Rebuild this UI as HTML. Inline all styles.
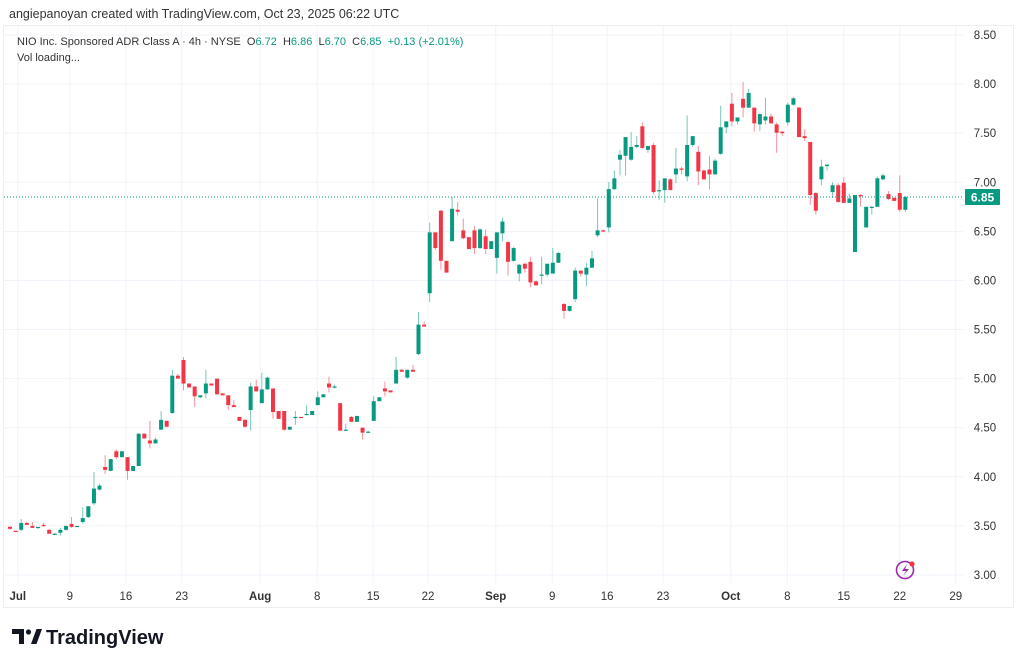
<!DOCTYPE html>
<html><head><meta charset="utf-8">
<style>
body{margin:0;background:#fff;width:1024px;height:665px;overflow:hidden;font-family:"Liberation Sans",sans-serif}
svg text{font-family:"Liberation Sans",sans-serif}
</style></head>
<body>
<svg id="c" width="1024" height="665" viewBox="0 0 1024 665" xmlns="http://www.w3.org/2000/svg">
<rect x="0" y="0" width="1024" height="665" fill="#fff"/>
<text x="9" y="18" font-size="12.5" fill="#333">angiepanoyan created with TradingView.com, Oct 23, 2025 06:22 UTC</text>
<rect x="3.5" y="25.5" width="1010" height="582" fill="none" stroke="#eceff2"/>
<g id="grid"></g>
<g id="candles"></g>
<g id="axes"></g>
<g>
<text x="17" y="45" font-size="11" fill="#333" style="white-space:pre" xml:space="preserve"><tspan>NIO Inc. Sponsored ADR Class A · 4h · NYSE  O</tspan><tspan fill="#089981">6.72</tspan><tspan>  H</tspan><tspan fill="#089981">6.86</tspan><tspan>  L</tspan><tspan fill="#089981">6.70</tspan><tspan>  C</tspan><tspan fill="#089981">6.85  +0.13 (+2.01%)</tspan></text>
<text x="17" y="61" font-size="11" fill="#333">Vol loading...</text>
</g>
<g>
<circle cx="905" cy="570" r="8.5" fill="none" stroke="#9c27b0" stroke-width="1.6"/>
<path d="M907 564 L902 571 L906 571 L903 576 L909 569 L905 569 Z" fill="#9c27b0"/>
<circle cx="912" cy="564" r="2.6" fill="#f23645"/>
</g>
<g>
<path d="M12 629 h12 v15 h-5 v-10 h-7 z" fill="#131722"/>
<circle cx="28.5" cy="632" r="2.6" fill="#131722"/>
<path d="M31 644 l5.5 -15 h5.5 l-5.5 15 z" fill="#131722"/>
<text x="46" y="644" font-size="20" font-weight="bold" fill="#131722">TradingView</text>
</g>
</svg>
<script>
const opens  =[3.49,3.45,3.46,3.53,3.50,3.48,3.51,3.46,3.42,3.43,3.46,3.52,3.50,3.54,3.59,3.73,3.87,4.10,4.06,4.26,4.20,4.20,4.06,4.11,4.44,4.37,4.34,4.48,4.57,4.65,5.03,5.19,4.95,4.92,4.81,4.85,4.95,5.00,4.85,4.83,4.73,4.61,4.58,4.68,4.92,4.75,4.89,4.90,4.67,4.67,4.48,4.60,4.61,4.63,4.63,4.73,4.81,4.95,4.92,4.75,4.47,4.61,4.56,4.50,4.46,4.57,4.77,4.90,4.88,4.95,5.09,5.01,5.09,5.25,5.55,5.87,6.49,6.71,6.20,6.40,6.72,6.51,6.44,6.51,6.33,6.45,6.32,6.23,6.48,6.39,6.20,6.07,6.17,6.19,5.99,6.05,6.06,6.07,6.18,5.76,5.69,5.81,6.10,6.06,6.13,6.46,6.51,6.54,6.93,7.23,7.27,7.23,7.36,7.57,7.33,7.38,6.92,6.92,7.03,7.08,7.14,7.06,7.38,7.31,7.12,7.13,7.08,7.29,7.56,7.80,7.62,7.85,7.76,7.76,7.59,7.63,7.67,7.59,7.515,7.61,7.79,7.76,7.47,7.41,6.89,7.03,7.165,6.90,6.97,6.995,6.79,6.29,6.87,6.54,6.75,6.75,7.03,6.88,6.84,6.89,6.72];
const highs  =[3.50,3.45,3.57,3.54,3.54,3.49,3.53,3.47,3.43,3.48,3.50,3.59,3.50,3.69,3.70,4.05,3.93,4.22,4.18,4.28,4.26,4.20,4.11,4.44,4.44,4.57,4.40,4.67,4.57,5.09,5.05,5.22,4.95,4.92,4.83,5.09,4.95,5.00,4.85,4.83,4.78,4.61,4.59,4.96,4.99,5.06,5.02,4.90,4.67,4.67,4.51,4.67,4.61,4.73,4.67,4.87,4.84,5.02,4.94,4.75,4.54,4.62,4.62,4.50,4.47,4.82,4.81,4.97,4.88,5.22,5.10,5.09,5.14,5.68,5.58,6.59,6.49,6.72,6.20,6.85,6.80,6.63,6.44,6.55,6.53,6.52,6.40,6.49,6.64,6.40,6.34,6.17,6.18,6.24,6.00,6.24,6.17,6.33,6.29,5.77,5.74,6.13,6.10,6.18,6.30,6.84,6.52,7.00,7.12,7.33,7.46,7.51,7.47,7.61,7.37,7.40,7.02,7.04,7.04,7.35,7.16,7.68,7.47,7.37,7.13,7.27,7.24,7.78,7.62,7.91,7.66,8.02,7.95,7.76,7.70,7.86,7.70,7.61,7.52,7.81,7.87,7.77,7.54,7.41,6.90,7.23,7.18,7.00,6.99,7.05,6.88,6.87,6.88,6.75,6.76,7.06,7.09,6.91,6.85,7.07,6.86];
const lows   =[3.46,3.44,3.45,3.51,3.48,3.47,3.49,3.42,3.41,3.40,3.45,3.48,3.49,3.52,3.58,3.71,3.86,4.03,4.06,4.18,4.20,3.97,4.06,4.11,4.39,4.29,4.34,4.48,4.51,4.64,5.00,4.88,4.91,4.71,4.80,4.80,4.93,4.84,4.83,4.68,4.71,4.57,4.50,4.47,4.87,4.75,4.89,4.59,4.59,4.47,4.48,4.53,4.60,4.63,4.63,4.73,4.81,4.86,4.90,4.47,4.47,4.56,4.56,4.38,4.45,4.57,4.77,4.82,4.86,4.95,5.07,5.00,5.07,5.24,5.53,5.78,6.31,6.11,6.08,6.40,6.66,6.42,6.32,6.27,6.32,6.27,6.32,6.07,6.40,6.05,6.19,5.99,6.08,5.93,5.95,5.96,6.04,6.07,6.18,5.61,5.68,5.78,6.04,5.94,6.13,6.44,6.49,6.49,6.92,7.07,7.07,7.22,7.35,7.34,7.30,6.88,6.82,6.79,6.92,6.99,7.08,7.01,7.36,6.97,7.03,6.93,7.08,7.28,7.50,7.57,7.59,7.66,7.76,7.515,7.52,7.59,7.60,7.30,7.47,7.58,7.78,7.46,7.42,6.77,6.67,6.97,7.12,6.84,6.79,6.79,6.79,6.29,6.75,6.54,6.67,6.75,7.02,6.82,6.81,6.70,6.70];
const closes =[3.47,3.44,3.53,3.51,3.48,3.49,3.50,3.42,3.42,3.46,3.50,3.49,3.50,3.58,3.70,3.88,3.91,4.07,4.18,4.20,4.26,4.06,4.11,4.44,4.39,4.34,4.38,4.58,4.51,5.03,5.00,4.95,4.91,4.82,4.83,4.95,4.93,4.84,4.83,4.73,4.71,4.57,4.51,4.92,4.87,4.89,5.01,4.66,4.59,4.48,4.51,4.61,4.60,4.64,4.67,4.81,4.84,4.91,4.92,4.47,4.48,4.56,4.62,4.45,4.46,4.77,4.81,4.87,4.86,5.09,5.07,5.09,5.07,5.55,5.53,6.49,6.33,6.20,6.08,6.73,6.70,6.43,6.32,6.33,6.52,6.32,6.40,6.49,6.60,6.19,6.33,6.16,6.12,5.98,5.95,6.06,6.17,6.18,6.28,5.69,5.74,6.10,6.07,6.13,6.225,6.51,6.50,6.93,7.04,7.28,7.46,7.36,7.38,7.35,7.37,6.90,6.92,7.04,6.92,7.14,7.13,7.38,7.47,7.11,7.03,7.08,7.22,7.56,7.62,7.62,7.66,7.76,7.91,7.60,7.695,7.67,7.60,7.505,7.50,7.79,7.855,7.46,7.45,6.87,6.71,7.16,7.18,6.97,6.80,6.79,6.835,6.87,6.86,6.75,6.75,7.04,7.07,6.83,6.81,6.72,6.85];
const priceTicks=["8.50","8.00","7.50","7.00","6.50","6.00","5.50","5.00","4.50","4.00","3.50","3.00"];
const dateLabels=["Jul","9","16","23","Aug","8","15","22","Sep","9","16","23","Oct","8","15","22","29"];
const dateIdx=[1.4,10.7,20.7,30.7,44.7,54.9,64.9,74.7,86.8,96.9,106.7,116.7,128.8,138.9,149,159,169];
const lastPrice=6.85;

const NS="http://www.w3.org/2000/svg";
const yScale=p=>35+(8.5-p)*98.18;
const xScale=i=>10+i*5.596;
function mk(tag,attrs,parent){const e=document.createElementNS(NS,tag);for(const k in attrs)e.setAttribute(k,attrs[k]);parent.appendChild(e);return e;}
const grid=document.getElementById('grid'),cg=document.getElementById('candles'),ax=document.getElementById('axes');
priceTicks.forEach(t=>{const y=yScale(+t);
 const l=mk('line',{x1:4,x2:963,y1:y,y2:y,stroke:'#f0f3fa'},grid);
 
 
 const tx=mk('text',{x:985,y:y+4,'font-size':11.5,fill:'#333','text-anchor':'middle'},ax);tx.textContent=t;
 
 
});
dateLabels.forEach((d,k)=>{const x=xScale(dateIdx[k]);
 const l=mk('line',{x1:x,x2:x,y1:26,y2:583,stroke:'#f0f3fa'},grid);
 
 
 const tx=mk('text',{x:x,y:600,'font-size':11.5,fill:'#333','text-anchor':'middle','font-weight':(isNaN(+d)?'bold':'normal')},ax);tx.textContent=d;
 
 
});
for(let i=0;i<opens.length;i++){
 const up=closes[i]>=opens[i];const col=up?'#089981':'#f23645';const x=xScale(i);
 const g=mk('g',{},cg);
 
 
 mk('line',{x1:x,x2:x,y1:yScale(highs[i]),y2:yScale(lows[i]),stroke:col,'stroke-opacity':0.55,'stroke-width':1},g);
 const top=yScale(Math.max(opens[i],closes[i])),bot=yScale(Math.min(opens[i],closes[i]));
 mk('rect',{x:x-2,y:top,width:4,height:Math.max(1.2,bot-top),fill:col},g);
}
const ly=yScale(lastPrice);
const pl=mk('line',{x1:4,x2:963,y1:ly,y2:ly,stroke:'#089981','stroke-dasharray':'1 2','stroke-width':1},ax);


const tag=mk('rect',{x:965,y:ly-8,width:35,height:16,fill:'#089981',rx:1},ax);


const tt=mk('text',{x:982.5,y:ly+4.5,'font-size':12,fill:'#fff','text-anchor':'middle','font-weight':'bold'},ax);tt.textContent=lastPrice.toFixed(2);


</script>
</body></html>
